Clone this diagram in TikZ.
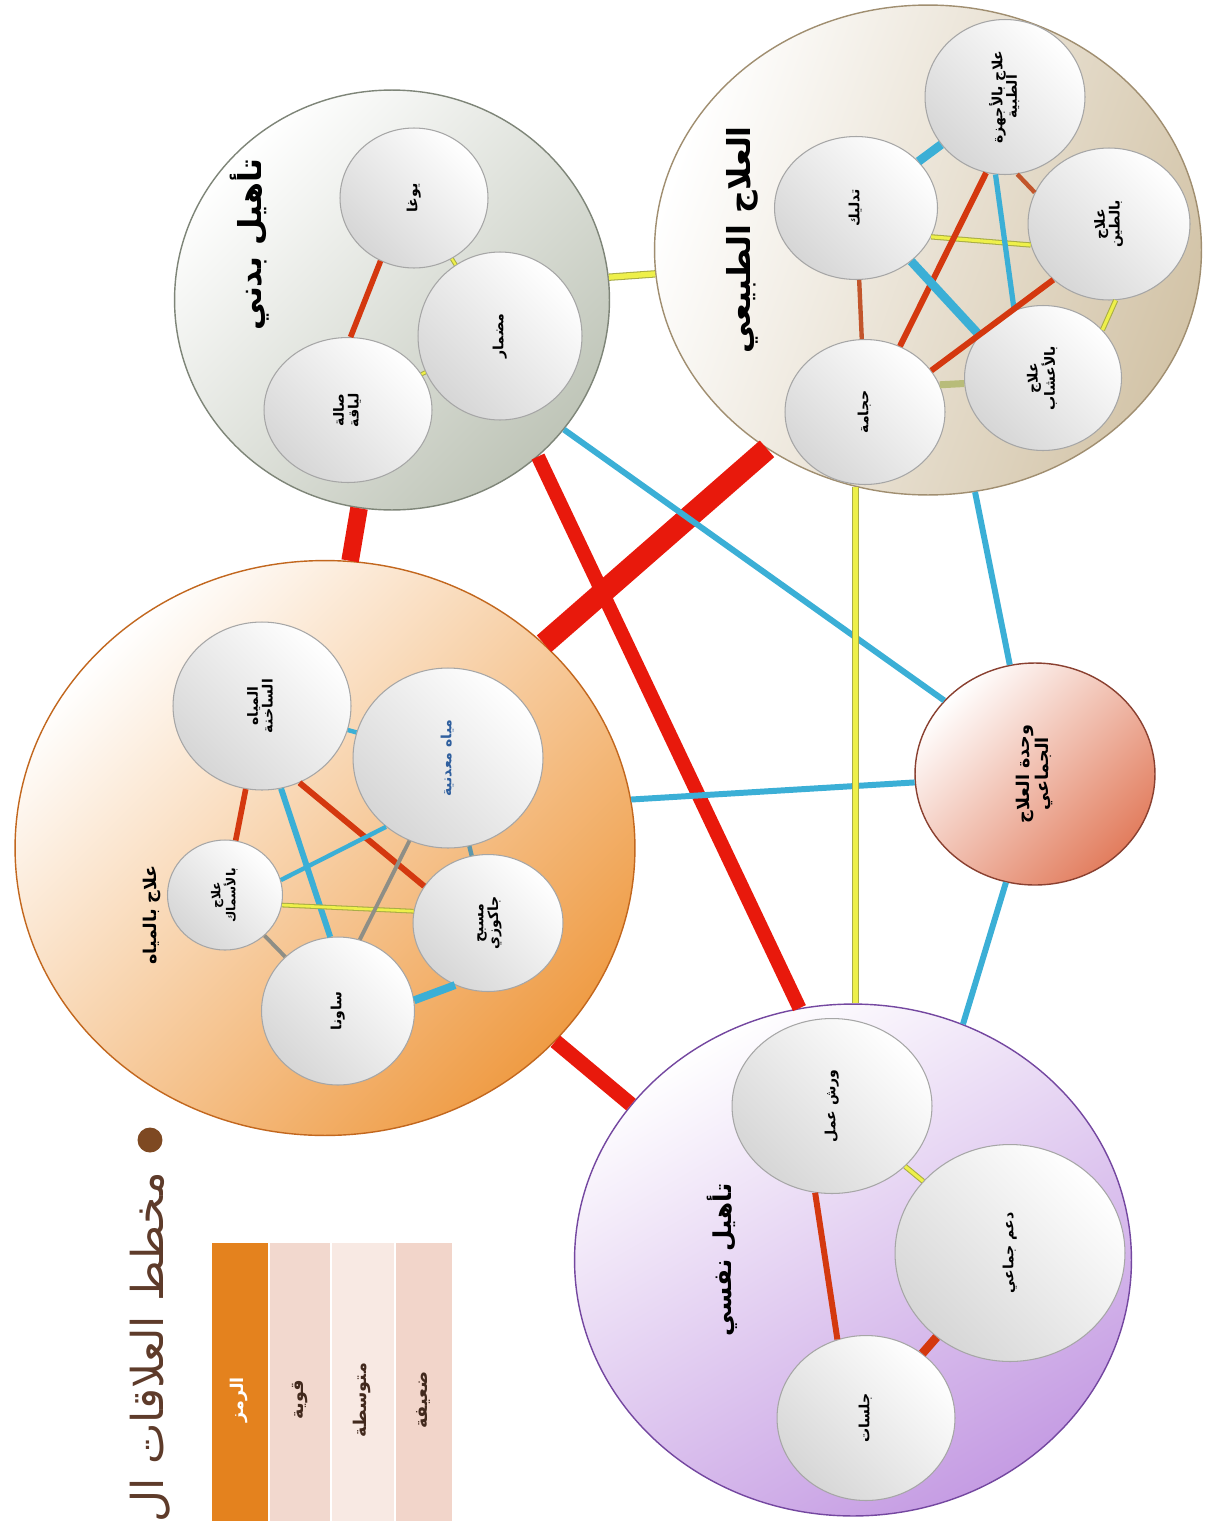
\documentclass[tikz,border=0pt]{standalone}
\usepackage{fontspec}
\usepackage{graphicx}
\usepackage{xcolor}
\usepackage{tikz}
\usetikzlibrary{shapes.geometric,positioning,calc}

\TeXXeTstate=1
\newfontfamily\arabicfont[Script=Arabic]{DejaVu Sans}
\newcommand{\arline}[1]{\beginR#1\endR}
\newcommand{\uptext}[1]{\rotatebox{90}{\renewcommand{\arraystretch}{0.85}\begin{tabular}{@{}c@{}}#1\end{tabular}}}

\definecolor{redlink}{HTML}{E8190C}
\definecolor{redinner}{HTML}{D4380F}
\definecolor{brownlink}{HTML}{C2552B}
\definecolor{bluelink}{HTML}{3BAFD6}
\definecolor{yellowlink}{HTML}{EEF04A}
\definecolor{olivelink}{HTML}{A9AD45}
\definecolor{graylink}{HTML}{8E8E86}
\definecolor{khakilink}{HTML}{B8BC7A}
\definecolor{physgray}{HTML}{BFC5B8}
\definecolor{physedge}{HTML}{7E8578}
\definecolor{natbeige}{HTML}{D3C4A8}
\definecolor{natedge}{HTML}{A08E70}
\definecolor{waterorange}{HTML}{EF9C45}
\definecolor{wateredge}{HTML}{C2671E}
\definecolor{psychpurple}{HTML}{C59CE3}
\definecolor{psychedge}{HTML}{7447A0}
\definecolor{unitsalmon}{HTML}{E27D5E}
\definecolor{unitedge}{HTML}{8A4030}
\definecolor{titlebrown}{HTML}{5E3B2A}
\definecolor{legorange}{HTML}{E4821E}
\definecolor{legstrong}{HTML}{F2D8CE}
\definecolor{legmedium}{HTML}{F8E9E3}
\definecolor{legweak}{HTML}{F2D5CA}
\definecolor{mineralblue}{HTML}{2F5F9E}

\begin{document}
\begin{tikzpicture}[x=0.02cm, y=-0.02cm,
  areaball/.style={ellipse, draw=#1, line width=0.8pt, inner sep=0pt},
  subball/.style={ellipse, draw=gray!70, line width=0.6pt, inner sep=0pt,
    top color=white, bottom color=gray!32, shading angle=-45,
    font=\arabicfont\bfseries\fontsize{8}{9}\selectfont},
  areatitle/.style={inner sep=0pt, font=\arabicfont\bfseries\fontsize{#1}{#1}\selectfont},
  redrel/.style={draw=redlink, line width=#1},
  innerred/.style={draw=redinner, line width=#1},
  brownrel/.style={draw=brownlink, line width=#1},
  bluerel/.style={draw=bluelink, line width=#1},
  yellowrel/.style={draw=olivelink, line width=0.6pt, double=yellowlink, double distance=#1},
  greyrel/.style={draw=graylink, line width=#1},
  legcell/.style={rectangle, inner sep=0pt, minimum width=#1, minimum height=6.28cm,
    text=titlebrown!70!black, font=\arabicfont\bfseries\fontsize{10}{12}\selectfont},
]
\useasboundingbox (0,0) rectangle (1209,1521);
\fill[white] (0,0) rectangle (1209,1521);

% main areas
\node[areaball=physedge, minimum width=8.7cm, minimum height=8.4cm,
  top color=white, middle color=white!70!physgray, bottom color=physgray, shading angle=45] (phys) at (392,300) {};
\node[areaball=natedge, minimum width=10.94cm, minimum height=9.8cm,
  top color=white, middle color=white!75!natbeige, bottom color=natbeige, shading angle=70] (nat) at (928,250) {};
\node[areaball=wateredge, minimum width=12.4cm, minimum height=11.5cm,
  top color=white, middle color=white!70!waterorange, bottom color=waterorange, shading angle=45] (water) at (325,848) {};
\node[areaball=psychedge, minimum width=11.14cm, minimum height=10.24cm,
  top color=white, middle color=white!75!psychpurple, bottom color=psychpurple, shading angle=30] (psych) at (853,1260) {};
\node[areaball=unitedge, minimum width=4.8cm, minimum height=4.44cm,
  top color=white, middle color=white!55!unitsalmon, bottom color=unitsalmon, shading angle=45,
  font=\arabicfont\bfseries\fontsize{10}{12}\selectfont] (unit) at (1035,774)
  {\uptext{\arline{وحدة العلاج}\\\arline{الجماعي}}};

\node[areatitle=18] (phystitle) at (250,245) {\uptext{\arline{تأهيل بدني}}};
\node[areatitle=18] (nattitle) at (743,240) {\uptext{\arline{العلاج الطبيعي}}};
\node[areatitle=10] (watertitle) at (152,915) {\uptext{\arline{علاج بالمياه}}};
\node[areatitle=14] (psychtitle) at (722,1260) {\uptext{\arline{تأهيل نفسي}}};

% physical rehab
\node[subball, minimum width=2.96cm, minimum height=2.8cm] (yoga) at (414,198) {\uptext{\arline{يوغا}}};
\node[subball, minimum width=3.28cm, minimum height=3.36cm] (track) at (500,336) {\uptext{\arline{مضمار}}};
\node[subball, minimum width=3.36cm, minimum height=2.9cm] (gym) at (348,410) {\uptext{\arline{صالة}\\\arline{لياقة}}};

% natural therapy
\node[subball, minimum width=3.26cm, minimum height=2.86cm] (massage) at (856,208) {\uptext{\arline{تدليك}}};
\node[subball, minimum width=3.2cm, minimum height=3.1cm] (devices) at (1005,97) {\uptext{\arline{علاج بالأجهزة}\\\arline{الطبية}}};
\node[subball, minimum width=3.24cm, minimum height=3.04cm] (mud) at (1109,224) {\uptext{\arline{علاج}\\\arline{بالطين}}};
\node[subball, minimum width=3.14cm, minimum height=2.9cm] (herbs) at (1043,378) {\uptext{\arline{علاج}\\\arline{بالأعشاب}}};
\node[subball, minimum width=3.2cm, minimum height=2.9cm] (cupping) at (865,412) {\uptext{\arline{حجامة}}};

% water therapy
\node[subball, minimum width=3.56cm, minimum height=3.36cm] (hotwater) at (262,706) {\uptext{\arline{المياه}\\\arline{الساخنة}}};
\node[subball, minimum width=3.8cm, minimum height=3.6cm, text=mineralblue] (mineral) at (448,758) {\uptext{\arline{مياه معدنية}}};
\node[subball, minimum width=2.3cm, minimum height=2.2cm, font=\arabicfont\bfseries\fontsize{7}{8}\selectfont] (fishes) at (225,895) {\uptext{\arline{علاج}\\\arline{بالأسماك}}};
\node[subball, minimum width=3.0cm, minimum height=2.74cm] (jacuzzi) at (488,923) {\uptext{\arline{مسبح}\\\arline{جاكوزي}}};
\node[subball, minimum width=3.06cm, minimum height=2.96cm] (sauna) at (338,1011) {\uptext{\arline{ساونا}}};

% psychological rehab
\node[subball, minimum width=4.0cm, minimum height=3.5cm] (workshop) at (832,1106) {\uptext{\arline{ورش عمل}}};
\node[subball, minimum width=4.6cm, minimum height=4.34cm] (support) at (1010,1253) {\uptext{\arline{دعم جماعي}}};
\node[subball, minimum width=3.56cm, minimum height=3.3cm] (sessions) at (866,1418) {\uptext{\arline{جلسات}}};

% links between areas
\draw[redrel=10pt] (phys.261) -- (water.85);
\draw[redrel=12.5pt] (nat.231) -- (water.43);
\draw[redrel=8pt] (phys.-47) -- (psych.102);
\draw[redrel=8.5pt] (water.-40) -- (psych.145);
\draw[yellowrel=3pt] (phys.6) -- (nat.185);
\draw[bluerel=3.4pt] (phys.-37) -- (unit.141);
\draw[bluerel=3.4pt] (water.9) -- (unit.184);
\draw[yellowrel=3pt] (nat.253) -- (nat.253 |- psych.north);
\draw[bluerel=3.4pt] (nat.-79) -- (unit.103);
\draw[bluerel=3.4pt] (unit.-105) -- (psych.65);

% links inside areas
\draw[innerred=3.2pt] (yoga.242) -- (gym.88);
\draw[yellowrel=1.2pt] (yoga) -- (track);
\draw[yellowrel=1.2pt] (gym) -- (track);

\draw[bluerel=5pt] (massage) -- (devices);
\draw[brownrel=2.5pt] (devices.-81) -- (mud.157);
\draw[yellowrel=1.8pt] (massage.-21) -- (mud.195);
\draw[brownrel=2.5pt] (massage) -- (cupping);
\draw[innerred=3.4pt] (devices.256) -- (cupping.62);
\draw[bluerel=3pt] (devices.263) -- (herbs.113);
\draw[bluerel=5pt] (massage.-44) -- (herbs.146);
\draw[innerred=3.4pt] (mud.225) -- (cupping.32);
\draw[draw=khakilink, line width=4pt] (cupping.20) -- (herbs.184);
\draw[yellowrel=1.8pt] (mud.-85) -- (herbs.39);

\draw[bluerel=2.5pt] (hotwater) -- (mineral);
\draw[innerred=3.2pt] (hotwater) -- (fishes);
\draw[innerred=3.4pt] (hotwater.-64) -- (jacuzzi.150);
\draw[bluerel=3.4pt] (hotwater.-77) -- (sauna.96);
\draw[bluerel=2.5pt] (fishes.15) -- (mineral.228);
\draw[yellowrel=1.5pt] (fishes.-10) -- (jacuzzi.171);
\draw[greyrel=2.2pt] (fishes) -- (sauna);
\draw[greyrel=2.2pt] (mineral.245) -- (sauna.73);
\draw[draw=gray!50!bluelink, line width=2.5pt] (mineral) -- (jacuzzi);
\draw[bluerel=4.5pt] (jacuzzi.242) -- (sauna.8);

\draw[innerred=3.4pt] (workshop.259) -- (sessions.110);
\draw[yellowrel=1.8pt] (workshop) -- (support);
\draw[innerred=5pt] (support) -- (sessions);

% title and legend
\node[circle, fill=titlebrown!80!orange, minimum size=0.5cm, inner sep=0pt] (bullet) at (150,1140) {};
\node[anchor=north, inner sep=0pt, text=titlebrown, font=\arabicfont\fontsize{25}{27}\selectfont] (charttitle) at (150,1172)
  {\rotatebox{90}{\arline{مخطط العلاقات ال}}};

\node[legcell=1.12cm, fill=legorange, text=white] (leghead) at (240,1400) {\uptext{\arline{الرمز}}};
\node[legcell=1.2cm, fill=legstrong] (legstrongcell) at (300,1400) {\uptext{\arline{قوية}}};
\node[legcell=1.24cm, fill=legmedium] (legmediumcell) at (363,1400) {\uptext{\arline{متوسطة}}};
\node[legcell=1.12cm, fill=legweak] (legweakcell) at (424,1400) {\uptext{\arline{ضعيفة}}};
\end{tikzpicture}
\end{document}
